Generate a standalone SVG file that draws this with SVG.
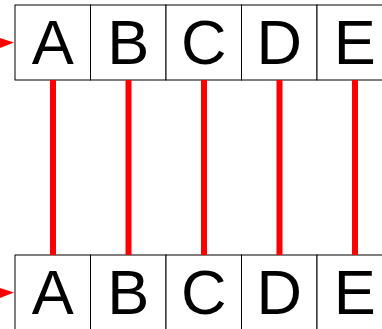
<svg xmlns="http://www.w3.org/2000/svg" width="382" height="329" viewBox="0 0 382 329">
<style>
.cell{fill:#fff;stroke:#000;stroke-width:1}
.lbl{font-family:"Liberation Sans",Arial,sans-serif;font-size:63px;fill:#000;text-anchor:middle}
.link{stroke:#f00;stroke-width:6;fill:none}
.ptr{fill:#f00}
</style>
<g id="top">
<g id="topA"><rect class="cell" x="15" y="5" width="75.5" height="75"/><text class="lbl" x="52.75" y="64">A</text></g>
<g id="topB"><rect class="cell" x="90.5" y="5" width="75.5" height="75"/><text class="lbl" x="128.25" y="64">B</text></g>
<g id="topC"><rect class="cell" x="166" y="5" width="75.5" height="75"/><text class="lbl" x="203.75" y="64">C</text></g>
<g id="topD"><rect class="cell" x="241.5" y="5" width="75.5" height="75"/><text class="lbl" x="279.25" y="64">D</text></g>
<g id="topE"><rect class="cell" x="317" y="5" width="75.5" height="75"/><text class="lbl" x="354.75" y="64">E</text></g>
</g>
<g id="bottom">
<g id="botA"><rect class="cell" x="15" y="255" width="75.5" height="75"/><text class="lbl" x="52.75" y="314">A</text></g>
<g id="botB"><rect class="cell" x="90.5" y="255" width="75.5" height="75"/><text class="lbl" x="128.25" y="314">B</text></g>
<g id="botC"><rect class="cell" x="166" y="255" width="75.5" height="75"/><text class="lbl" x="203.75" y="314">C</text></g>
<g id="botD"><rect class="cell" x="241.5" y="255" width="75.5" height="75"/><text class="lbl" x="279.25" y="314">D</text></g>
<g id="botE"><rect class="cell" x="317" y="255" width="75.5" height="75"/><text class="lbl" x="354.75" y="314">E</text></g>
</g>
<g id="connectors">
<line class="link" x1="53" y1="80" x2="53" y2="255"/>
<line class="link" x1="128.5" y1="80" x2="128.5" y2="255"/>
<line class="link" x1="204" y1="80" x2="204" y2="255"/>
<line class="link" x1="279.5" y1="80" x2="279.5" y2="255"/>
<line class="link" x1="355" y1="80" x2="355" y2="255"/>
<polygon class="ptr" points="0,38 14,42.5 0,48"/>
<polygon class="ptr" points="0,288 14,292.5 0,298"/>
</g>
</svg>
